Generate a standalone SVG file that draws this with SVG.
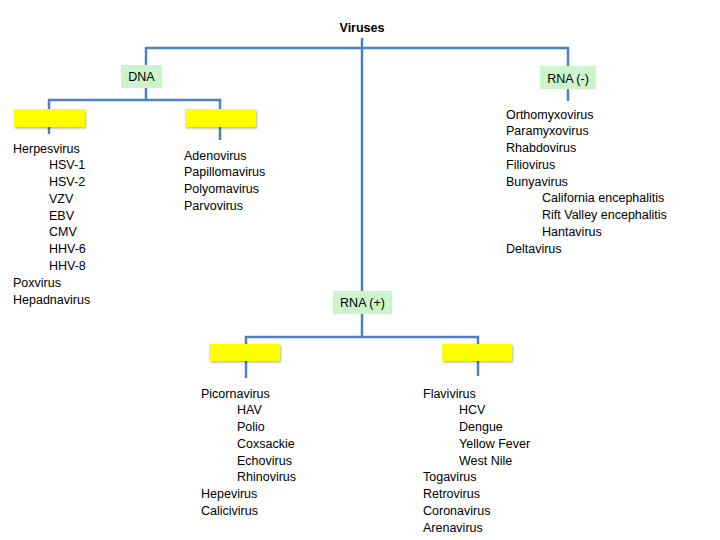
<svg xmlns="http://www.w3.org/2000/svg" width="720" height="540" viewBox="0 0 720 540">
<defs>
<style>
text{font-family:"Liberation Sans",Arial,sans-serif;font-size:12.5px;fill:#000}
.c{stroke:#4f81bd;stroke-width:2.5;fill:none}
.g{fill:#ccf5cc}
.y{fill:#ffff00}
.m{text-anchor:middle}
</style>
<filter id="sh" x="-10%" y="-20%" width="130%" height="160%"><feDropShadow dx="1" dy="1.5" stdDeviation="1" flood-color="#000" flood-opacity="0.3"/></filter>
</defs>
<rect width="720" height="540" fill="#fff"/>
<g id="connectors">
<path class="c" d="M146,65 V48 H568 V66"/>
<path class="c" d="M362,38 V291"/>
<path class="c" d="M146,88 V100"/>
<path class="c" d="M49,109 V100 H220 V109"/>
<path class="c" d="M49,127 V134"/>
<path class="c" d="M220,127 V140"/>
<path class="c" d="M568,89 V101"/>
<path class="c" d="M362,314 V337"/>
<path class="c" d="M246,344 V337 H478 V344"/>
<path class="c" d="M246,361 V378"/>
<path class="c" d="M478,361 V376"/>
</g>
<g id="viruses"><text x="362" y="32" class="m" style="font-weight:bold">Viruses</text></g>
<g id="dna"><rect class="g" x="121" y="65" width="41" height="23"/><text x="141.5" y="81" class="m">DNA</text></g>
<g id="rna-neg"><rect class="g" x="540" y="66" width="56" height="23"/><text x="568" y="83" class="m">RNA (-)</text></g>
<g id="rna-pos"><rect class="g" x="333" y="291" width="59" height="23"/><text x="362.5" y="307" class="m">RNA (+)</text></g>
<g id="dna-left"><rect class="y" filter="url(#sh)" x="14" y="109" width="71" height="18"/></g>
<g id="dna-right"><rect class="y" filter="url(#sh)" x="185" y="109" width="71" height="18"/></g>
<g id="rnap-left"><rect class="y" filter="url(#sh)" x="209" y="344" width="71" height="17"/></g>
<g id="rnap-right"><rect class="y" filter="url(#sh)" x="442" y="344" width="70" height="17"/></g>
<g id="list-herpes">
<text x="13" y="152.5">Herpesvirus</text>
<text x="49" y="169.3">HSV-1</text>
<text x="49" y="186">HSV-2</text>
<text x="49" y="202.8">VZV</text>
<text x="49" y="219.6">EBV</text>
<text x="49" y="236.4">CMV</text>
<text x="49" y="253.2">HHV-6</text>
<text x="49" y="270">HHV-8</text>
<text x="13" y="286.8">Poxvirus</text>
<text x="13" y="303.6">Hepadnavirus</text>
</g>
<g id="list-adeno">
<text x="184" y="159.5">Adenovirus</text>
<text x="184" y="176.3">Papillomavirus</text>
<text x="184" y="193">Polyomavirus</text>
<text x="184" y="209.8">Parvovirus</text>
</g>
<g id="list-rnaneg">
<text x="506" y="118.5">Orthomyxovirus</text>
<text x="506" y="135.3">Paramyxovirus</text>
<text x="506" y="152">Rhabdovirus</text>
<text x="506" y="168.8">Filiovirus</text>
<text x="506" y="185.6">Bunyavirus</text>
<text x="542" y="202.4">California encephalitis</text>
<text x="542" y="219.2">Rift Valley encephalitis</text>
<text x="542" y="236">Hantavirus</text>
<text x="506" y="252.8">Deltavirus</text>
</g>
<g id="list-picorna">
<text x="201" y="397.5">Picornavirus</text>
<text x="237" y="414.3">HAV</text>
<text x="237" y="431">Polio</text>
<text x="237" y="447.8">Coxsackie</text>
<text x="237" y="464.6">Echovirus</text>
<text x="237" y="481.4">Rhinovirus</text>
<text x="201" y="498.2">Hepevirus</text>
<text x="201" y="515">Calicivirus</text>
</g>
<g id="list-flavi">
<text x="423" y="397.5">Flavivirus</text>
<text x="459" y="414.3">HCV</text>
<text x="459" y="431">Dengue</text>
<text x="459" y="447.8">Yellow Fever</text>
<text x="459" y="464.6">West Nile</text>
<text x="423" y="481.4">Togavirus</text>
<text x="423" y="498.2">Retrovirus</text>
<text x="423" y="515">Coronavirus</text>
<text x="423" y="531.8">Arenavirus</text>
</g>
</svg>
